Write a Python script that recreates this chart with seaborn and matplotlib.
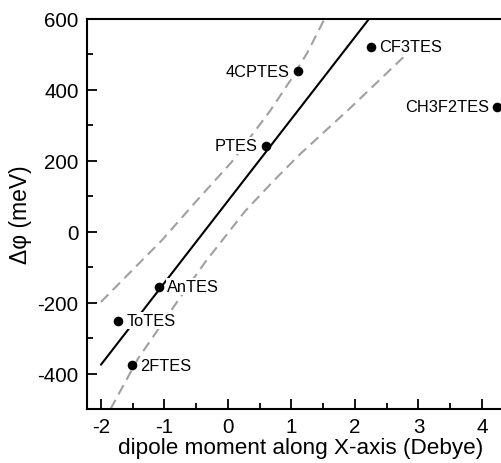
import matplotlib
matplotlib.use("Agg")
import matplotlib.pyplot as plt
import seaborn as sns
import pandas as pd
from matplotlib.ticker import MultipleLocator

# Data
names = ["CF3TES", "4CPTES", "CH3F2TES", "PTES", "AnTES", "ToTES", "2FTES"]
dipole = [2.25, 1.10, 4.24, 0.60, -1.09, -1.73, -1.51]
dphi = [522, 452, 353, 243, -155, -251, -376]
label_side = ["right", "left", "left", "left", "right", "right", "right"]

fit_x = [-2.0, 2.22]
fit_y = [-375, 600]

upper_x = [-2.0, -1.57, -1.04, -0.52, 0.05, 0.66, 0.98, 1.25, 1.52]
upper_y = [-198, -120, -24, 82, 195, 340, 426, 505, 600]

lower_x = [-1.85, -1.42, -0.88, -0.36, 0.27, 0.7, 1.13, 1.92, 2.79]
lower_y = [-500, -359, -218, -86, 58, 140, 218, 348, 497]

xticks = [-2, -1, 0, 1, 2, 3, 4]
yticks = [-400, -200, 0, 200, 400, 600]

sns.set_theme(style="ticks")
plt.rcParams["font.family"] = ["Liberation Sans", "DejaVu Sans"]
plt.rcParams["axes.unicode_minus"] = False
plt.rcParams["text.color"] = "black"
plt.rcParams["axes.labelcolor"] = "black"

fig = plt.figure(figsize=(5.01, 4.64), dpi=100)
ax = fig.add_axes([87 / 501, 54 / 464, 426.7 / 501, 390 / 464])

pts = pd.DataFrame({"name": names, "x": dipole, "y": dphi})
sns.lineplot(x=fit_x, y=fit_y, ax=ax, color="black", linewidth=1.5, sort=False)
sns.lineplot(x=upper_x, y=upper_y, ax=ax, color="#a0a0a0", linewidth=1.5,
             linestyle=(0, (5, 3)), sort=False)
sns.lineplot(x=lower_x, y=lower_y, ax=ax, color="#a0a0a0", linewidth=1.5,
             linestyle=(0, (5, 3)), sort=False)
sns.scatterplot(data=pts, x="x", y="y", ax=ax, color="black", s=48,
                edgecolor="black", linewidth=0, zorder=5, clip_on=False)

box = dict(facecolor="white", edgecolor="none", pad=0.6)
for n, x, y, side in zip(names, dipole, dphi, label_side):
    if side == "right":
        ax.annotate(n, (x, y), xytext=(6, 0), textcoords="offset points",
                    ha="left", va="center", fontsize=11.8, color="black",
                    bbox=box, zorder=4)
    else:
        ax.annotate(n, (x, y), xytext=(-6, 0), textcoords="offset points",
                    ha="right", va="center", fontsize=11.8, color="black",
                    bbox=box, zorder=4)

ax.set_xlim(-2.22, 4.5)
ax.set_ylim(-500, 600)
ax.set_xticks(xticks)
ax.set_yticks(yticks)
ax.xaxis.set_minor_locator(MultipleLocator(0.5))
ax.yaxis.set_minor_locator(MultipleLocator(100))
ax.tick_params(which="major", direction="in", length=7, width=1.3,
               labelsize=14.8, colors="black", pad=6)
ax.tick_params(which="minor", direction="in", length=4, width=1.3, colors="black")
ax.tick_params(top=False, right=False, which="both")
for sp in ["left", "bottom", "top"]:
    ax.spines[sp].set_linewidth(1.5)
    ax.spines[sp].set_color("black")
ax.spines["right"].set_visible(False)

ax.set_xlabel("dipole moment along X-axis (Debye)", fontsize=16.2, labelpad=0.5)
ax.set_ylabel("Δφ (meV)", fontsize=16.5, labelpad=4)

fig.savefig("out.png", dpi=100)
